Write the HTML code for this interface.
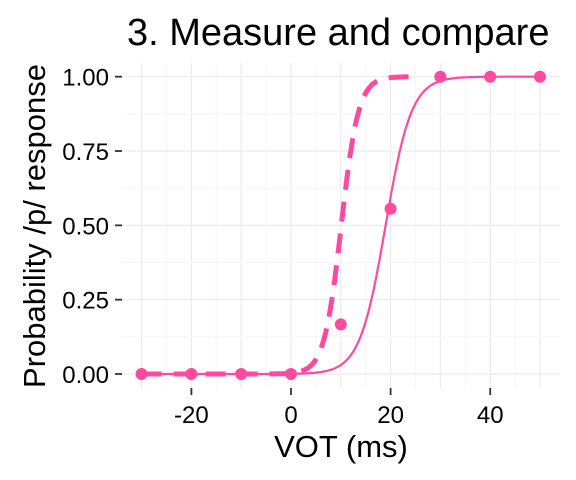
<!DOCTYPE html>
<html><head><meta charset="utf-8"><style>
body{margin:0;background:#fff}
svg{display:block;font-family:"Liberation Sans",sans-serif}
</style></head><body>
<svg id="c" width="576" height="480">
<text x="127" y="45" font-size="38" fill="#000">3. Measure and compare</text>
<g id="grid"></g><g id="axes"></g><g id="marks"></g>
<text x="341" y="457" font-size="31" text-anchor="middle" fill="#000">VOT (ms)</text>
<text transform="translate(45,226) rotate(-90)" font-size="31" text-anchor="middle" fill="#000">Probability /p/ response</text>
</svg>
<script>
const vot=[-30,-20,-10,0,10,20,30,40,50];
const propP=[0,0,0,0,0.167,0.556,1,1,1];
const xTicks=[-20,0,20,40];
const xTickLabels=["-20","0","20","40"];
const yTicks=[0,0.25,0.5,0.75,1];
const yTickLabels=["0.00","0.25","0.50","0.75","1.00"];
const fitMid=[19.0,10.1];
const fitSlope=[0.385,0.58];
const fitRange=[[-30,50],[-30,24]];

const NS="http://www.w3.org/2000/svg";
const X=v=>291+v*4.98, Y=p=>374-p*297.3;
const L=122,R=560,T=63,B=388,col="#ff4aa0";
function mk(t,a,parent){const e=document.createElementNS(NS,t);for(const k in a)e.setAttribute(k,a[k]);document.getElementById(parent).appendChild(e);return e;}
for(let v=-30;v<=50;v+=5){const e=mk('line',{x1:X(v),x2:X(v),y1:T,y2:B,stroke:v%10===0?'#ebebeb':'#f5f5f5','stroke-width':v%10===0?1.2:1},'grid');

}
for(let p=0;p<=1.0001;p+=0.125){const major=Math.round(p*8)%2===0;const e=mk('line',{x1:L,x2:R,y1:Y(p),y2:Y(p),stroke:major?'#ebebeb':'#f5f5f5','stroke-width':major?1.2:1},'grid');

}
yTicks.forEach((p,i)=>{const t=mk('line',{x1:115,x2:122,y1:Y(p),y2:Y(p),stroke:'#333','stroke-width':1.8},'axes');


const s=mk('text',{x:109,y:Y(p)+9,'font-size':24,'text-anchor':'end',fill:'#000'},'axes');s.textContent=yTickLabels[i];

});
xTicks.forEach((v,i)=>{const t=mk('line',{x1:X(v),x2:X(v),y1:388,y2:395,stroke:'#333','stroke-width':1.8},'axes');


const s=mk('text',{x:X(v),y:423,'font-size':24,'text-anchor':'middle',fill:'#000'},'axes');s.textContent=xTickLabels[i];

});
fitMid.forEach((m,i)=>{let d='';const [a,b]=fitRange[i];for(let v=a;v<=b;v+=0.25){const p=1/(1+Math.exp(-fitSlope[i]*(v-m)));d+=(d?'L':'M')+X(v).toFixed(1)+','+Y(p).toFixed(1);}
const e=mk('path',{d:d,fill:'none',stroke:col,'stroke-width':i===0?2.2:5,'stroke-dasharray':i===0?'none':'20 12'},'marks');

});
vot.forEach((v,i)=>{const c=mk('circle',{cx:X(v),cy:Y(propP[i]),r:6,fill:col},'marks');

});
</script>
</body></html>
